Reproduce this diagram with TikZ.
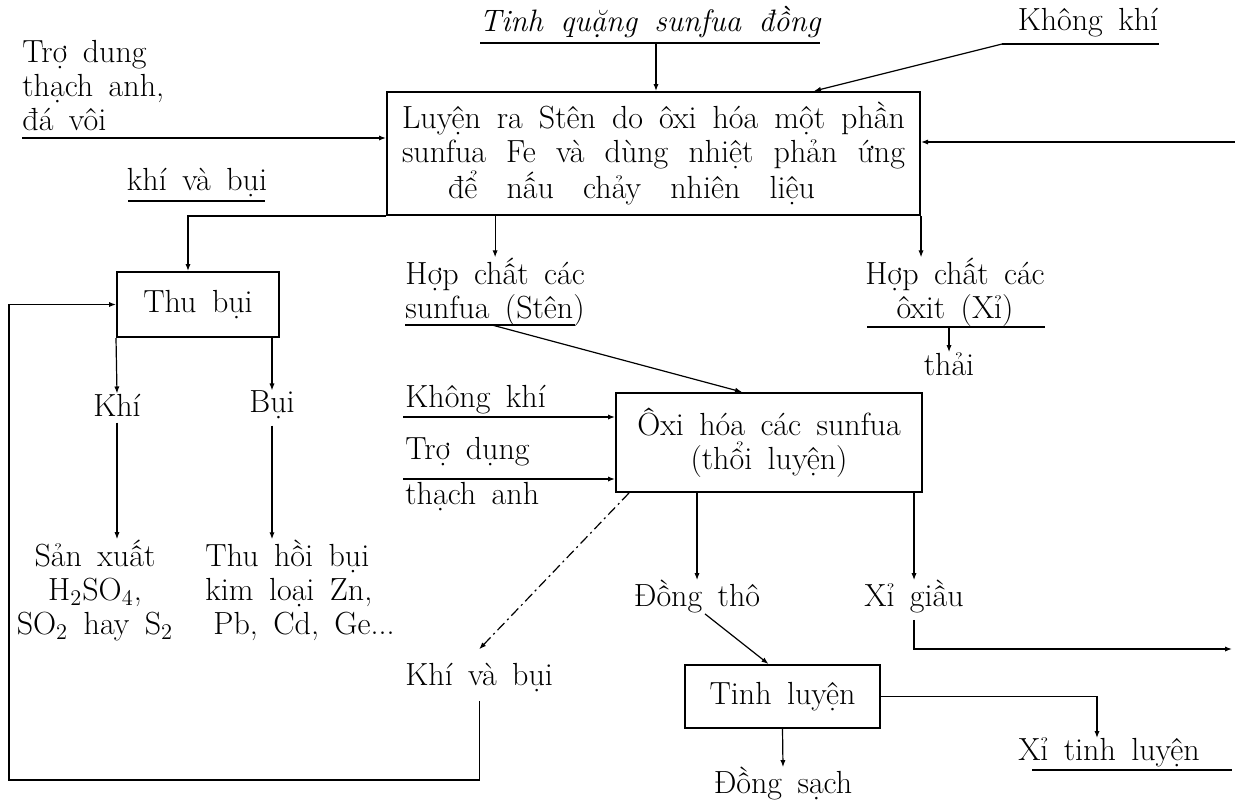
\documentclass[tikz,border=0pt]{standalone}
\usepackage{fontspec}
\setmainfont{Latin Modern Roman}[WordSpace={1.6,2,1}]
\usepackage{tikz}
\usetikzlibrary{arrows.meta, positioning, calc}
\newcommand{\diagfont}{\fontsize{16}{17}\selectfont}
\newcommand{\fullline}[2][251.5pt]{\leavevmode\hbox to #1{#2}}

\begin{document}
\begin{tikzpicture}[
    x=0.5pt, y=-0.5pt,
    every node/.style={font=\diagfont, inner sep=0pt},
    block/.style={rectangle, draw=black, line width=1pt, align=center},
    arrow/.style={-{Latex[length=3.5pt,width=2.6pt]}, line width=0.6pt},
    uline/.style={line width=0.6pt},
    dashdot/.style={dash pattern=on 5pt off 2pt on 1pt off 2pt}
]
\useasboundingbox (0,0) rectangle (1235,799);

\node[block, minimum width=266.5pt, minimum height=61.5pt, text width=251.5pt,
      align=left] (luyen) at (653.5,153.5)
     {\fullline{Luyện\hfill ra\hfill Stên\hfill do\hfill ôxi\hfill hóa\hfill một\hfill phần}\\
      \fullline{sunfua\hfill Fe\hfill và\hfill dùng\hfill nhiệt\hfill phản\hfill ứng}\\
      \hspace*{23pt}\fullline[183.5pt]{để\hfill nấu\hfill chảy\hfill nhiên\hfill liệu}};

\node (tinh) at (650,22) {\fontsize{15.5}{17}\selectfont\itshape Tinh quặng sunfua đồng};
\node (kk) at (1088,23) {Không khí};
\node[align=left, anchor=west] (trodung) at (22,86) {Trợ dung\\thạch anh,\\đá vôi};
\node (kvb1) at (197,183) {khí và bụi};

\node[block, minimum width=81pt, minimum height=32.5pt] (thubui) at (198,304.5) {Thu bụi};
\node (khi) at (117,405) {Khí};
\node (bui) at (272,405) {Bụi};
\node[align=center] (sanxuat) at (95,590)
     {Sản xuất\\H\textsubscript{2}SO\textsubscript{4},\\SO\textsubscript{2} hay S\textsubscript{2}};
\node[align=left, anchor=west] (thuhoi) at (205,590)
     {Thu hồi bụi\\kim loại Zn,\\\hspace*{4pt}Pb, Cd, Ge...};

\node[align=left, anchor=west] (hcsun) at (405,292) {Hợp chất các\\sunfua (Stên)};
\node[align=center] (hcox) at (955,292) {Hợp chất các\\ôxit (Xỉ)};
\node (thai) at (949,364) {thải};

\node[block, minimum width=153pt, minimum height=49.5pt] (oxi) at (769,442.5)
     {Ôxi hóa các sunfua\\(thổi luyện)};
\node[anchor=west] (kk2) at (405,400) {Không khí};
\node[anchor=west] (trodung2) at (405,452) {Trợ dụng};
\node[anchor=west] (thachanh) at (405,497) {thạch anh};
\node[anchor=west] (kvb2) at (405,678) {Khí và bụi};

\node (dongtho) at (697,597) {Đồng thô};
\node (xigiau) at (914,597) {Xỉ giầu};
\node[block, minimum width=97.5pt, minimum height=31.5pt] (tinhl) at (782.5,696.5) {Tinh luyện};
\node (xitinh) at (1109,752) {Xỉ tinh luyện};
\node (dongsach) at (783,784) {Đồng sạch};

\coordinate (tinhu) at (656,43);
\coordinate (kku) at (1002,44);
\coordinate (tdin) at (22,138);
\coordinate (rin) at (1235,142);
\coordinate (hcsu) at (492,325);
\coordinate (hcoxu) at (949,327);
\coordinate (kk2a) at (403,417);
\coordinate (td2a) at (403,479);
\coordinate (lp) at (9,780);
\coordinate (xgr) at (1232,649);
\coordinate (xta) at (1097,738);

\draw[uline] (480,43) -- (820,43);
\draw[uline] (kku) -- (1159,44);
\draw[uline] (128,201) -- (265,201);
\draw[uline] (405,325) -- (575,325);
\draw[uline] (867,327) -- (1045,327);
\draw[uline] (1032,770) -- (1232,770);

\draw[arrow] (tinhu) -- (tinhu |- luyen.north);
\draw[arrow] (kku) -- ($(luyen.north west)!0.8!(luyen.north east)$);
\draw[arrow] (tdin) -- (tdin -| luyen.west);
\draw[arrow] (rin) -- (rin -| luyen.east);
\draw[arrow] (luyen.south west) -| ([xshift=-5pt]thubui.north);
\draw[arrow] (luyen.south -| hcsun.north) -- (hcsun.north);
\draw[arrow] (luyen.south east) -- (luyen.south east |- hcox.north);
\draw[arrow] (hcoxu) -- (thai.north);

\draw[arrow] (thubui.south west) -- (khi.north);
\draw[arrow] (bui.north |- thubui.south) -- (bui.north);
\draw[arrow] ([yshift=-3pt]khi.south) -- (khi.south |- sanxuat.north);
\draw[arrow] ([yshift=-3pt]bui.south) -- (bui.south |- thuhoi.north);

\draw[arrow] (hcsu) -- ([xshift=-13.5pt]oxi.north);
\draw[arrow] (kk2a) -- (kk2a -| oxi.west);
\draw[arrow] (td2a) -- (td2a -| oxi.west);
\draw[arrow, dashdot] ([xshift=7pt]oxi.south west) -- ([yshift=7pt]kvb2.north);
\draw[arrow] ([yshift=-4pt]kvb2.south) -- (kvb2.south |- lp) -- (lp) |- (thubui.west);

\draw[arrow] (dongtho.north |- oxi.south) -- (dongtho.north);
\draw[arrow] (xigiau.north |- oxi.south) -- (xigiau.north);
\draw[arrow] ([yshift=-3pt]xigiau.south) -- (xigiau.south |- xgr) -- (xgr);
\draw[arrow] ([xshift=4pt]dongtho.south) -- ([xshift=-7pt]tinhl.north);
\draw[arrow] (tinhl.east) -| (xta);
\draw[arrow] (tinhl.south) -- (dongsach.north);

\end{tikzpicture}
\end{document}
